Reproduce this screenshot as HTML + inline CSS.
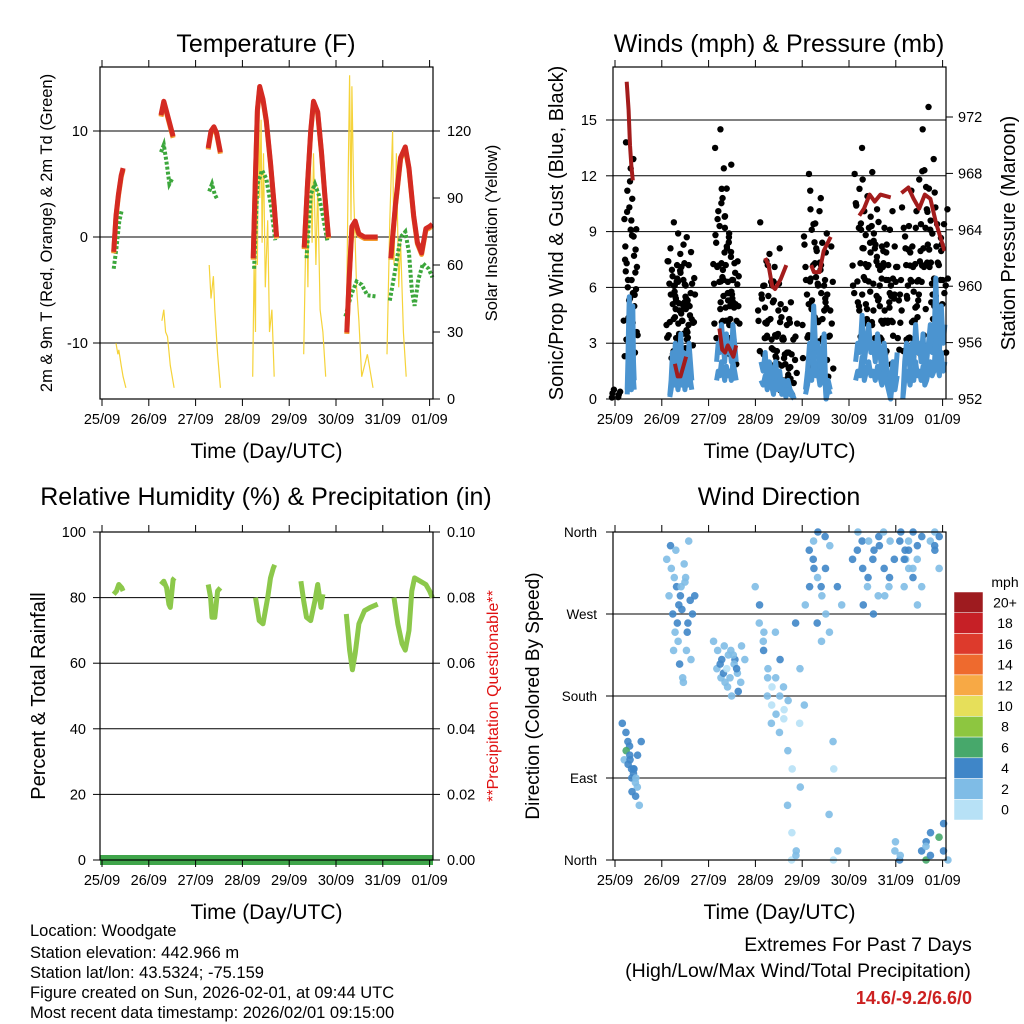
<!DOCTYPE html>
<html><head><meta charset="utf-8">
<style>
html,body{margin:0;padding:0;background:#fff;}
svg{display:block;font-family:"Liberation Sans",Arial,sans-serif;}
</style></head>
<body>
<svg id="root" width="1024" height="1024" viewBox="0 0 1024 1024" xmlns="http://www.w3.org/2000/svg"></svg>
<script>
// ---------- DATA ----------
const dayLabels = ["25/09","26/09","27/09","28/09","29/09","30/09","31/09","01/09"];
const tempTicks = [-10,0,10];
const solarTicks = [0,30,60,90,120];
const windTicks = [0,3,6,9,12,15];
const presTicks = [952,956,960,964,968,972];
const rhTicks = [0,20,40,60,80,100];
const rainTicks = ["0.00","0.02","0.04","0.06","0.08","0.10"];
const dirTicks = ["North","East","South","West","North"];
const cbLabels = ["20+","18","16","14","12","10","8","6","4","2","0"];
const cbColors = ["#9e1b1f","#c62026","#dd3a2c","#ee6a2e","#f7a945","#e6df5a","#8dc640","#47a86b","#3f86c8","#7fbce6","#b7e1f6"];

const tempSegs = [
 [[0.25,-1.4],[0.30,2],[0.35,4],[0.41,5.8],[0.45,6.5]],
 [[1.26,11.5],[1.32,12.8],[1.37,12],[1.43,11],[1.52,9.5]],
 [[2.27,8.4],[2.33,10],[2.39,10.4],[2.45,9.8],[2.53,8]],
 [[3.23,-2],[3.28,6],[3.32,12],[3.37,14.2],[3.44,13],[3.51,11],[3.60,7],[3.68,3],[3.73,0]],
 [[4.32,-1],[4.39,5],[4.46,10],[4.52,12.8],[4.61,11.8],[4.69,8],[4.76,4],[4.84,0]],
 [[5.23,-9],[5.28,-4],[5.34,1],[5.41,1.5],[5.49,0.3],[5.61,0],[5.89,0]],
 [[6.17,-2],[6.27,3],[6.38,7.5],[6.48,8.5],[6.56,6.5],[6.66,2],[6.74,-0.5],[6.83,-1.5],[6.92,0.8],[7.0,1],[7.06,1.2]]
];
const dewSegs = [
 [[0.25,-3],[0.31,-1],[0.37,1.5],[0.42,2.5]],
 [[1.26,8],[1.32,8.7],[1.38,7],[1.44,5],[1.50,5.5]],
 [[2.29,4.3],[2.35,5],[2.41,4],[2.47,3.5]],
 [[3.25,-3],[3.32,5],[3.42,6.3],[3.51,5.5],[3.61,3],[3.70,-0.3]],
 [[4.37,-2],[4.46,4],[4.55,5],[4.63,4],[4.72,2],[4.82,-0.5]],
 [[5.20,-7.5],[5.32,-5.5],[5.44,-4.2],[5.55,-4.5],[5.67,-5.5],[5.85,-5.6]],
 [[6.15,-6],[6.27,-3],[6.38,0],[6.48,0.5],[6.56,-1.5],[6.62,-5],[6.68,-6.5],[6.76,-4],[6.86,-2.5],[6.98,-3],[7.06,-3.8]]
];
const solarSegs = [
 [[0.30,25],[0.34,20],[0.36,22],[0.41,15],[0.45,10],[0.51,5]],
 [[1.28,35],[1.32,40],[1.36,30],[1.40,28],[1.46,15],[1.54,5]],
 [[2.29,60],[2.33,45],[2.38,55],[2.41,40],[2.47,20],[2.53,5]],
 [[3.22,10],[3.25,60],[3.28,30],[3.30,130],[3.32,60],[3.35,140],[3.37,90],[3.40,125],[3.42,70],[3.45,110],[3.49,50],[3.54,80],[3.58,30],[3.63,40],[3.68,10]],
 [[4.31,20],[4.37,90],[4.40,50],[4.44,120],[4.49,70],[4.52,110],[4.57,60],[4.61,95],[4.66,40],[4.72,30],[4.78,10]],
 [[5.22,30],[5.26,100],[5.29,145],[5.32,80],[5.34,140],[5.38,90],[5.44,50],[5.49,35],[5.55,10],[5.67,20],[5.79,5]],
 [[6.09,20],[6.15,80],[6.21,120],[6.24,60],[6.29,110],[6.34,50],[6.38,70],[6.44,30],[6.50,10]]
];
const presSegs = [
 [[0.25,974.5],[0.29,972.5],[0.32,970],[0.35,968.5],[0.38,967.5]],
 [[1.28,954.5],[1.34,953.6],[1.40,953.6],[1.52,955]],
 [[2.23,957],[2.29,955.5],[2.35,955.3],[2.41,955.8],[2.53,955],[2.59,955.8]],
 [[3.21,962],[3.28,961.5],[3.36,960],[3.42,959.8],[3.54,960.5],[3.66,961.5]],
 [[4.19,961.5],[4.25,961],[4.37,961],[4.46,962.5],[4.61,963.5]],
 [[5.22,965],[5.32,965.5],[5.44,966.5],[5.55,966],[5.67,966.5],[5.89,966.3]],
 [[6.12,966.6],[6.27,967],[6.38,966.2],[6.50,965.5],[6.62,966.5],[6.74,966.2],[6.86,964.5],[6.95,963.5],[7.04,962.5]]
];
const gustStart = [0.0,0.26,1.17,2.17,3.12,4.07,5.14,6.15];
const gustEnd = [0.03,0.41,1.64,2.59,3.83,4.60,6.03,7.05];
const gustVals = [
 [0.3,0.1,0.5],
 [2.3,5.4,8.2,12.4,13.8,9.6,7.3,8.8,11.2,4.1,6.4,12.9,3.2,7.7,10.3,5.6,11.7,6.8,9.1,5.9,4.4,3.6],
 [3.3,5.1,7.4,9.5,6.2,4.4,8.1,5.3,2.2,7.2,6.6,8.9,4.3,3.1,6.1,7.8,5.4,7.1,2.6,4.2,6.3,8.3,3.5,5.2,6.9,6.1,4.6,8.7,5.1,3.3,6.4,2.4,7.3,4.5,5.5,7.9,3.7,6.2,5.3,4.1,7.2,6.5],
 [6.2,9.3,13.5,5.2,8.4,11.3,7.1,4.2,10.1,12.4,6.3,9.2,14.5,3.4,7.3,8.1,10.8,5.3,6.4,8.9,9.8,4.3,7.2,12.6,8.2,5.4,6.3,3.2,8.7,7.3,2.4,5.1,7.9,4.2,6.4,7.4,5.2,6.6],
 [4.2,6.1,9.5,3.3,5.4,7.2,2.4,7.8,4.1,6.3,3.4,5.2,1.3,7.1,4.3,2.2,6.1,3.5,5.3,8.1,2.3,4.4,1.2,3.3,6.2,2.4,5.1,0.6,3.2,1.3,2.2,4.1,0.3,2.4,1.1,3.2,4.3,2.1,5.2,1.4],
 [2.2,5.1,8.3,11.2,6.4,9.1,3.3,7.2,12.1,4.4,10.2,8.1,5.3,6.2,9.4,3.1,7.3,10.8,4.2,8.4,6.1,2.3,10.1,5.4,7.2,8.9,4.3,1.2,6.1,3.4,5.2,8.2,2.1,6.3],
 [6.1,9.2,12.1,7.3,10.4,13.5,5.2,8.1,11.3,6.4,9.1,4.3,11.8,7.2,10.1,8.4,5.1,9.3,10.9,6.2,3.3,8.1,9.8,7.4,12.2,5.3,8.9,6.1,8.3,4.2,10.2,7.1,5.4,9.2,3.3,6.4,8.2,4.1,7.3,5.2,2.4,6.1,8.3,10.1,7.2,5.4,9.1,6.3,4.2,7.1,3.4,5.3,8.2],
 [4.1,7.2,10.3,6.1,9.2,3.3,8.1,11.2,5.4,7.1,9.3,4.2,6.4,10.1,8.2,5.3,3.1,7.4,9.2,6.3,4.4,8.1,11.8,7.2,9.4,10.2,14.5,15.7,12.3,9.1,11.4,6.2,8.3,12.9,7.1,10.3,5.2,9.4,4.3,7.2,11.1,6.4,8.2,5.1,7.3,9.4,3.2,6.1,8.3,10.2]
];
const windStart = [0.26,1.17,2.17,3.12,4.07,5.14,6.15];
const windEnd = [0.41,1.64,2.59,3.83,4.60,6.03,7.05];
const windVals = [
 [0.5,2,4,5.5,3,2,1,3,5,2,1],
 [0.2,1,2.5,1.5,3,2,1,2,3.5,1.5,2.5,1,2,1.5,3,2,1],
 [2,3,2.5,4,3,2,3.5,2.5,3,2,4,3,2],
 [2,1.5,2.5,1,2,1.5,0.5,2,1,1.5,0.5,1,0.2,1,0.5,0.3,0],
 [0.5,1.5,3,2,5,2.5,3,1.5,2,3.5,0,1,0.5],
 [2,3,2.5,4.5,2,3,4,2.5,3,2,3.5,2.5,1.5,3,2,1,0,2,1,2.5],
 [0,2,3,2.5,1.5,3,2,4,2.5,3,2,3.5,1.5,2,3,4,2.5,3,6.5,3.5,2.5,5,3,4]
];
const rhSegs = [
 [[0.25,81],[0.31,82],[0.36,84],[0.42,83],[0.45,82]],
 [[1.26,84],[1.32,85],[1.38,83],[1.43,78],[1.46,77],[1.52,85.5],[1.55,86]],
 [[2.27,84],[2.32,80],[2.35,74],[2.41,74],[2.47,82],[2.53,83]],
 [[3.28,80],[3.36,73],[3.44,72],[3.54,80],[3.60,86],[3.66,89],[3.69,90]],
 [[4.25,85],[4.31,79],[4.37,74],[4.46,73],[4.55,79],[4.61,84],[4.68,77],[4.72,81]],
 [[5.22,75],[5.29,64],[5.35,58],[5.41,63],[5.49,72],[5.61,76],[5.73,77],[5.89,78]],
 [[6.24,80],[6.32,72],[6.41,66],[6.48,64],[6.56,70],[6.62,82],[6.68,86],[6.80,85],[6.92,84],[7.0,82],[7.06,80]]
];
const rainVals = [0,0];
const wdStart = [0.22,1.17,2.17,3.06,4.13,5.14,6.15];
const wdEnd = [0.51,1.64,2.71,4.01,4.78,6.21,7.05];
const wdDirs = [
 [150,140,125,110,130,100,120,115,95,105,90,85,110,100,80,75,70,60,100,115,130,90],
 [330,345,310,290,270,300,320,250,280,230,260,300,340,215,195,240,275,310,290,325,260,200,230,285,305,350,270,250,220,290],
 [240,230,220,210,200,195,215,235,225,205,190,180,210,230,220,200,215,185,225,205,235,210,195,220],
 [300,280,250,260,230,210,240,200,190,180,170,160,150,200,220,250,180,165,140,155,175,190,120,100,60,30,10,0,5,80,260,210,170,150],
 [280,300,320,340,350,360,330,310,290,260,240,270,300,320,345,355,250,100,50,0,10,130,300,280],
 [330,340,350,360,320,300,280,310,330,350,270,290,340,355,360,345,320,300,290,310,330,350,10,0,20,5,340,360,330],
 [350,330,320,300,340,360,350,310,280,320,345,355,330,300,20,10,0,30,15,5,340,350,360,355,345,320,40,25,10,0]
];
const wdSpds = [
 [3,4,3,2,4,3,5,4,3,4,3,2,4,3,2,4,3,2,3,4,3,2],
 [2,3,1,2,3,4,2,1,3,2,4,2,1,3,2,1,3,2,4,2,3,1,2,3,2,1,3,4,2,3],
 [1,2,3,2,1,2,3,1,2,3,2,1,0,2,3,1,2,3,2,1,2,3,1,2],
 [2,3,1,2,3,1,2,1,0,1,0,1,2,1,3,2,1,0,1,0,1,2,1,0,1,0,1,0,1,1,3,2,1,0],
 [1,3,4,3,2,4,3,2,1,3,2,1,3,4,2,3,1,0,1,0,1,1,3,2],
 [3,4,3,2,4,1,3,4,3,2,3,1,4,3,2,4,3,1,2,3,4,2,1,3,2,1,3,4,2],
 [3,4,2,1,3,4,2,3,1,2,4,3,2,1,3,4,6,3,2,4,3,1,2,4,3,2,3,5,4,2]
];

// ---------- HELPERS ----------
const NS = "http://www.w3.org/2000/svg";
const root = document.getElementById('root');
function mk(tag, attrs, parent){ const e=document.createElementNS(NS,tag); for(const k in attrs) e.setAttribute(k,attrs[k]); (parent||root).appendChild(e); return e; }
function txt(s, x, y, size, anchor, parent, extra){ const e=mk('text',Object.assign({x:x,y:y,'font-size':size,'text-anchor':anchor||'middle',fill:'#000'},extra||{}),parent); e.textContent=s; return e; }
function spanIdx(s,e,n,i){ return n<=1? s : s+(e-s)*i/(n-1); }

const P1={x0:100,x1:433,y0:67,y1:399}, P2={x0:613,x1:946,y0:67,y1:399}, P3={x0:100,x1:433,y0:532,y1:860}, P4={x0:613,x1:946,y0:532,y1:860};
const DAYW = 46.8;
function xS(P,t){ return Math.min(P.x1, P.x0+2+t*DAYW); }
function lin(d0,d1,r0,r1){ return v=> r0+(v-d0)/(d1-d0)*(r1-r0); }
const yTemp = lin(-10,10,343,131);
const ySolar = lin(0,120,399,131);
const yWind = lin(0,15,399,120);
const yPres = lin(952,972,399,117);
const yRH = lin(0,100,860,532);
const yRain = lin(0,0.1,860,532);
const yDir = lin(0,360,860,532);

function frame(P, name){
  const g=mk('g',{});  
  return g;
}
function xAxis(P,g){
  const ax=mk('g',{},g);
  
  
  for(let d=0; d<=7; d++){
    const x=xS(P,d);
    mk('line',{x1:x,x2:x,y1:P.y1,y2:P.y1+7,stroke:'#000','stroke-width':1},ax);
    mk('line',{x1:x,x2:x,y1:P.y0,y2:P.y0-7,stroke:'#000','stroke-width':1},ax);
    const t=txt(dayLabels[d],x,P.y1+25,14.5,'middle',ax);
    
    
  }
  const tt=txt('Time (Day/UTC)',(P.x0+P.x1)/2,P.y1+59,21,'middle',ax);
  
  
}
function border(P,g){
  const r=mk('rect',{x:P.x0,y:P.y0,width:P.x1-P.x0,height:P.y1-P.y0,fill:'none',stroke:'#000','stroke-width':1.2},g);
  
  
}
function grid(P,g,ys){
  ys.forEach(y=>mk('line',{x1:P.x0,x2:P.x1,y1:y,y2:y,stroke:'#000','stroke-width':1},g));
}
function polyPts(P,seg,yf){ return seg.map(p=>xS(P,p[0]).toFixed(1)+','+yf(p[1]).toFixed(1)).join(' '); }

// ---------- PANEL 1 ----------
(function(){
  const P=P1; const g=frame(P,'temperature-panel');
  const ti=txt('Temperature (F)',266,52,25,'middle',g);  
  grid(P,g,tempTicks.map(yTemp));
  const sg=mk('g',{},g);  
  solarSegs.forEach(s=>{ const l=mk('polyline',{points:polyPts(P,s,ySolar),fill:'none',stroke:'#f5d33a','stroke-width':1.2},sg);   });
  const dg=mk('g',{},g);  
  dewSegs.forEach(s=>{ const l=mk('polyline',{points:polyPts(P,s,yTemp),fill:'none',stroke:'#3ca73c','stroke-width':4,'stroke-dasharray':'3 2'},dg);   });
  const tg=mk('g',{},g);  
  tempSegs.forEach(s=>{
    const o=mk('polyline',{points:polyPts(P,s,yTemp),fill:'none',stroke:'#f39a2e','stroke-width':5,'stroke-linejoin':'round',transform:'translate(0,1.5)'},tg);
     
    const l=mk('polyline',{points:polyPts(P,s,yTemp),fill:'none',stroke:'#d42a22','stroke-width':5,'stroke-linejoin':'round'},tg);
     
  });
  border(P,g); xAxis(P,g);
  tempTicks.forEach(v=>{ const y=yTemp(v); mk('line',{x1:P.x0-7,x2:P.x0,y1:y,y2:y,stroke:'#000'},g); const t=txt(String(v),88,y+5,14.5,'end',g);   });
  solarTicks.forEach(v=>{ const y=ySolar(v); mk('line',{x1:P.x1,x2:P.x1+7,y1:y,y2:y,stroke:'#000'},g); const t=txt(String(v),447,y+5,14.5,'start',g);   });
  const a=txt('2m & 9m T (Red, Orange) & 2m Td (Green)',0,0,16.5,'middle',g,{transform:'translate(52,233) rotate(-90)'});  
  const b=txt('Solar Insolation (Yellow)',0,0,16.5,'middle',g,{transform:'translate(497,233) rotate(-90)'});  
})();

// ---------- PANEL 2 ----------
(function(){
  const P=P2; const g=frame(P,'winds-panel');
  const ti=txt('Winds (mph) & Pressure (mb)',779,52,25,'middle',g);  
  grid(P,g,windTicks.map(yWind));
  const gg=mk('g',{},g);  
  gustVals.forEach((vals,c)=>{ vals.forEach((v,i)=>{
    const n=vals.length; const t=spanIdx(gustStart[c],gustEnd[c],n,i);
    const jitter=(i%2?2.5:-2.5);
    const d=mk('circle',{cx:xS(P,t)+jitter,cy:yWind(v),r:3.2,fill:'#000'},gg);
     
    const d2=mk('circle',{cx:xS(P,t)-jitter*1.5,cy:yWind(v*0.78),r:3.2,fill:'#000'},gg);
     
  });});
  const wg=mk('g',{},g);  
  windVals.forEach((vals,c)=>{
    const pts=vals.map((v,i)=>[spanIdx(windStart[c],windEnd[c],vals.length,i),v]);
    const l=mk('polyline',{points:polyPts(P,pts,yWind),fill:'none',stroke:'#4b94d0','stroke-width':5,'stroke-linejoin':'round'},wg);
     
    const lo=pts.map(p=>[p[0],p[1]*0.5]);
    const l2=mk('polyline',{points:polyPts(P,lo,yWind),fill:'none',stroke:'#4b94d0','stroke-width':5,'stroke-linejoin':'round'},wg);
     
  });
  const pg=mk('g',{},g);  
  presSegs.forEach(s=>{ const l=mk('polyline',{points:polyPts(P,s,yPres),fill:'none',stroke:'#a31c1c','stroke-width':4,'stroke-linejoin':'round'},pg);   });
  border(P,g); xAxis(P,g);
  windTicks.forEach(v=>{ const y=yWind(v); mk('line',{x1:P.x0-7,x2:P.x0,y1:y,y2:y,stroke:'#000'},g); const t=txt(String(v),597,y+5,14.5,'end',g);   });
  presTicks.forEach(v=>{ const y=yPres(v); mk('line',{x1:P.x1,x2:P.x1+7,y1:y,y2:y,stroke:'#000'},g); const t=txt(String(v),958,y+5,14.5,'start',g);   });
  const a=txt('Sonic/Prop Wind & Gust (Blue, Black)',0,0,20,'middle',g,{transform:'translate(563,233) rotate(-90)'});  
  const b=txt('Station Pressure (Maroon)',0,0,20,'middle',g,{transform:'translate(1015,233) rotate(-90)'});  
})();

// ---------- PANEL 3 ----------
(function(){
  const P=P3; const g=frame(P,'humidity-panel');
  const ti=txt('Relative Humidity (%) & Precipitation (in)',266,505,25,'middle',g);  
  grid(P,g,rhTicks.slice(1,5).map(yRH));
  const rg=mk('g',{},g);  
  rhSegs.forEach(s=>{ const l=mk('polyline',{points:polyPts(P,s,yRH),fill:'none',stroke:'#8cc84b','stroke-width':5,'stroke-linejoin':'round'},rg);   });
  const pr=mk('line',{x1:P.x0,x2:P.x1,y1:yRain(rainVals[0]),y2:yRain(rainVals[1]),stroke:'#3fa54a','stroke-width':10},g);
   
  border(P,g); xAxis(P,g);
  rhTicks.forEach(v=>{ const y=yRH(v); mk('line',{x1:P.x0-7,x2:P.x0,y1:y,y2:y,stroke:'#000'},g); const t=txt(String(v),86,y+5,14.5,'end',g);   });
  rainTicks.forEach(v=>{ const y=yRain(parseFloat(v)); mk('line',{x1:P.x1,x2:P.x1+7,y1:y,y2:y,stroke:'#000'},g); const t=txt(v,447,y+5,14.5,'start',g);   });
  const a=txt('Percent & Total Rainfall',0,0,20,'middle',g,{transform:'translate(45,696) rotate(-90)'});  
  const b=txt('**Precipitation Questionable**',0,0,16,'middle',g,{transform:'translate(498,696) rotate(-90)',fill:'#e01010'});  
})();

// ---------- PANEL 4 ----------
(function(){
  const P=P4; const g=frame(P,'wind-direction-panel');
  const ti=txt('Wind Direction',779,505,25,'middle',g);  
  grid(P,g,[90,180,270].map(yDir));
  const spdColor=s=>{ const idx=Math.min(10,Math.round(s/2)); return cbColors[10-idx]; };
  const dg=mk('g',{},g);  
  wdDirs.forEach((dirs,c)=>{ dirs.forEach((dv,i)=>{
    const t=spanIdx(wdStart[c],wdEnd[c],dirs.length,i);
    const sp=(wdSpds[c][i]!==undefined?wdSpds[c][i]:2);
    const p=mk('circle',{cx:xS(P,t)+(i%3-1)*3,cy:yDir(dv),r:3.8,fill:spdColor(sp),opacity:0.9},dg);
     
  });});
  border(P,g); xAxis(P,g);
  dirTicks.forEach((lab,i)=>{ const y=yDir(i*90); mk('line',{x1:P.x0-7,x2:P.x0,y1:y,y2:y,stroke:'#000'},g); const t=txt(lab,597,y+5,13.5,'end',g);   });
  const a=txt('Direction (Colored By Speed)',0,0,19,'middle',g,{transform:'translate(539,696) rotate(-90)'});  
  const cb=mk('g',{},g);  
  const u=txt('mph',1005,587,14,'middle',cb);  
  const h=(820-592)/cbLabels.length;
  cbLabels.forEach((lab,i)=>{
    const r=mk('rect',{x:954,y:592+i*h,width:29,height:h,fill:cbColors[i],stroke:'#fff','stroke-width':0.5},cb);
     
    const t=txt(lab,1005,592+i*h+h/2+5,14,'middle',cb);  
  });
})();

// ---------- Footer ----------
(function(){
  const g=mk('g',{});  
  const lines=["Location: Woodgate","Station elevation: 442.966 m","Station lat/lon: 43.5324; -75.159","Figure created on Sun, 2026-02-01, at 09:44 UTC","Most recent data timestamp: 2026/02/01 09:15:00"];
  const ys=[936,958,978,998,1018];
  lines.forEach((s,i)=>{ const t=txt(s,30,ys[i],16.5,'start',g);   });
  const e=mk('g',{});  
  const t1=txt('Extremes For Past 7 Days',858,951,19.5,'middle',e);  
  const t2=txt('(High/Low/Max Wind/Total Precipitation)',798,977,19.5,'middle',e);  
  const t3=txt('14.6/-9.2/6.6/0',972,1004,18,'end',e,{fill:'#cc2020','font-weight':'bold'});  
})();
</script>
</body></html>
